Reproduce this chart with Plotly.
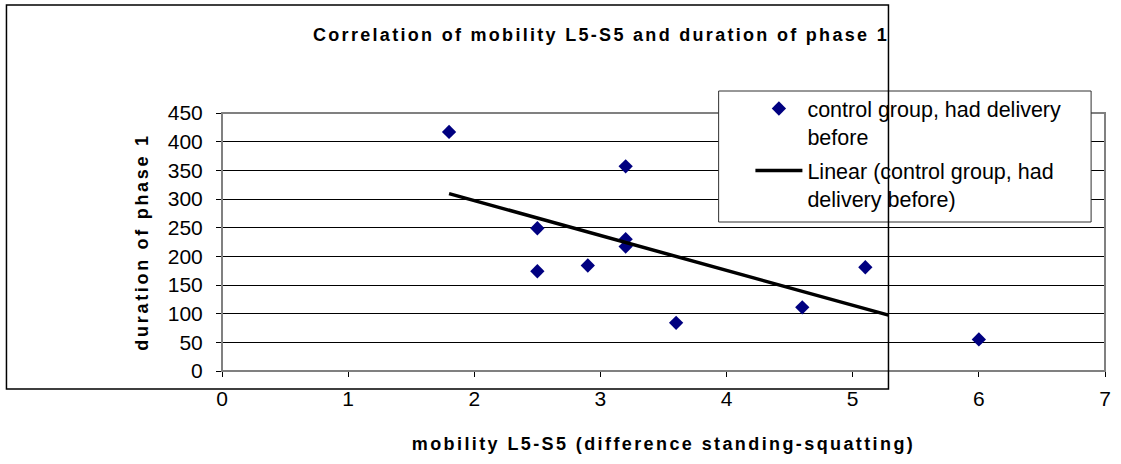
import numpy as np
import plotly.graph_objects as go

# ---------------- data ----------------
mobility = [1.8, 2.5, 2.5, 2.9, 3.2, 3.2, 3.2, 3.6, 4.6, 5.1, 6.0]
duration = [417, 249, 174, 184, 357, 230, 217, 84, 111, 181, 55]
series_name = "control group, had delivery<br>before"
trend_name = "Linear (control group, had<br>delivery before)"
title_text = "Correlation of mobility L5-S5 and duration of phase 1"
x_title = "mobility L5-S5 (difference standing-squatting)"
y_title = "duration of phase 1"
x_ticks = [0, 1, 2, 3, 4, 5, 6, 7]
y_ticks = [0, 50, 100, 150, 200, 250, 300, 350, 400, 450]

# ---------------- layout constants ----------------
W, H = 1121, 464
ML, MR, MT, MB = 222, 10, 113, 93
PW, PH = W - ML - MR, H - MT - MB

def px_x(p):
    return (p - ML) / PW

def px_y(p):
    return (H - MB - p) / PH

FONT = "Arial, 'Liberation Sans', sans-serif"

# outer chart frame (paper coords)
frame_x0, frame_x1 = px_x(5), px_x(893)
frame_y0, frame_y1 = px_y(389), px_y(5)
# legend box
leg_x0, leg_x1 = px_x(722), px_x(1097)
leg_y0, leg_y1 = px_y(222), px_y(91)

# linear trendline (least squares), clipped at the chart frame edge
slope, intercept = np.polyfit(mobility, duration, 1)
x_min, x_max = x_ticks[0], x_ticks[-1]
trend_end = x_min + frame_x1 * (x_max - x_min)
tx = np.array([min(mobility), trend_end])
ty = slope * tx + intercept

fig = go.Figure()
fig.add_trace(go.Scatter(
    x=mobility, y=duration, mode="markers", name=series_name, legendgroup="a",
    marker=dict(symbol="diamond", size=11, color="#000080"),
))
fig.add_trace(go.Scatter(
    x=tx, y=ty, mode="lines", name=trend_name, legendgroup="b",
    line=dict(color="black", width=3.5),
))

shapes = [
    # plot area border (grey)
    dict(type="rect", xref="paper", yref="paper", x0=0, x1=1, y0=0, y1=1,
         line=dict(color="#808080", width=2), layer="above"),
    # legend box
    dict(type="rect", xref="paper", yref="paper", x0=leg_x0, x1=leg_x1, y0=leg_y0, y1=leg_y1,
         line=dict(color="#303030", width=1), fillcolor="white", layer="above"),
    # outer chart frame
    dict(type="rect", xref="paper", yref="paper", x0=frame_x0, x1=frame_x1, y0=frame_y0, y1=frame_y1,
         line=dict(color="black", width=1.5), layer="above"),
]

fig.update_layout(
    width=W, height=H,
    margin=dict(l=ML, r=MR, t=MT, b=MB, pad=0),
    paper_bgcolor="white", plot_bgcolor="white",
    font=dict(family=FONT, size=21, color="black"),
    title=dict(text="<b>" + title_text + "</b>", font=dict(size=18, family=FONT),
               x=601 / W, xanchor="center", xref="container",
               y=1 - 35 / H, yanchor="middle"),
    showlegend=True,
    legend=dict(x=px_x(754), y=px_y(88), xanchor="left", yanchor="top",
                bgcolor="rgba(0,0,0,0)", borderwidth=0, itemwidth=47,
                valign="top", font=dict(size=21.5, family=FONT),
                tracegroupgap=3),
    shapes=shapes,
)
fig.update_xaxes(
    range=[x_min, x_max], tickvals=x_ticks, showgrid=False,
    showline=True, linecolor="black", linewidth=1,
    ticks="outside", ticklen=5, tickcolor="black",
    tickfont=dict(size=21), zeroline=False, ticklabelstandoff=4,
    title=dict(text="<b>" + x_title + "</b>", font=dict(size=18), standoff=28),
)
fig.update_yaxes(
    range=[y_ticks[0], y_ticks[-1]], tickvals=y_ticks,
    showgrid=True, gridcolor="black", gridwidth=1,
    showline=True, linecolor="black", linewidth=1,
    ticks="outside", ticklen=5, tickcolor="black",
    tickfont=dict(size=21), zeroline=False, ticklabelstandoff=9,
    title=dict(text="<b>" + y_title + "</b>", font=dict(size=18), standoff=14),
)

post = """
var gd = document.getElementById('{plot_id}');
gd.querySelectorAll('.gtitle').forEach(function(el){ el.style.letterSpacing = '2.3px'; });
gd.querySelectorAll('.xtitle').forEach(function(el){ el.style.letterSpacing = '2.4px'; });
gd.querySelectorAll('.ytitle').forEach(function(el){ el.style.letterSpacing = '2.7px'; });
"""
fig.write_html("out.html", post_script=post)
